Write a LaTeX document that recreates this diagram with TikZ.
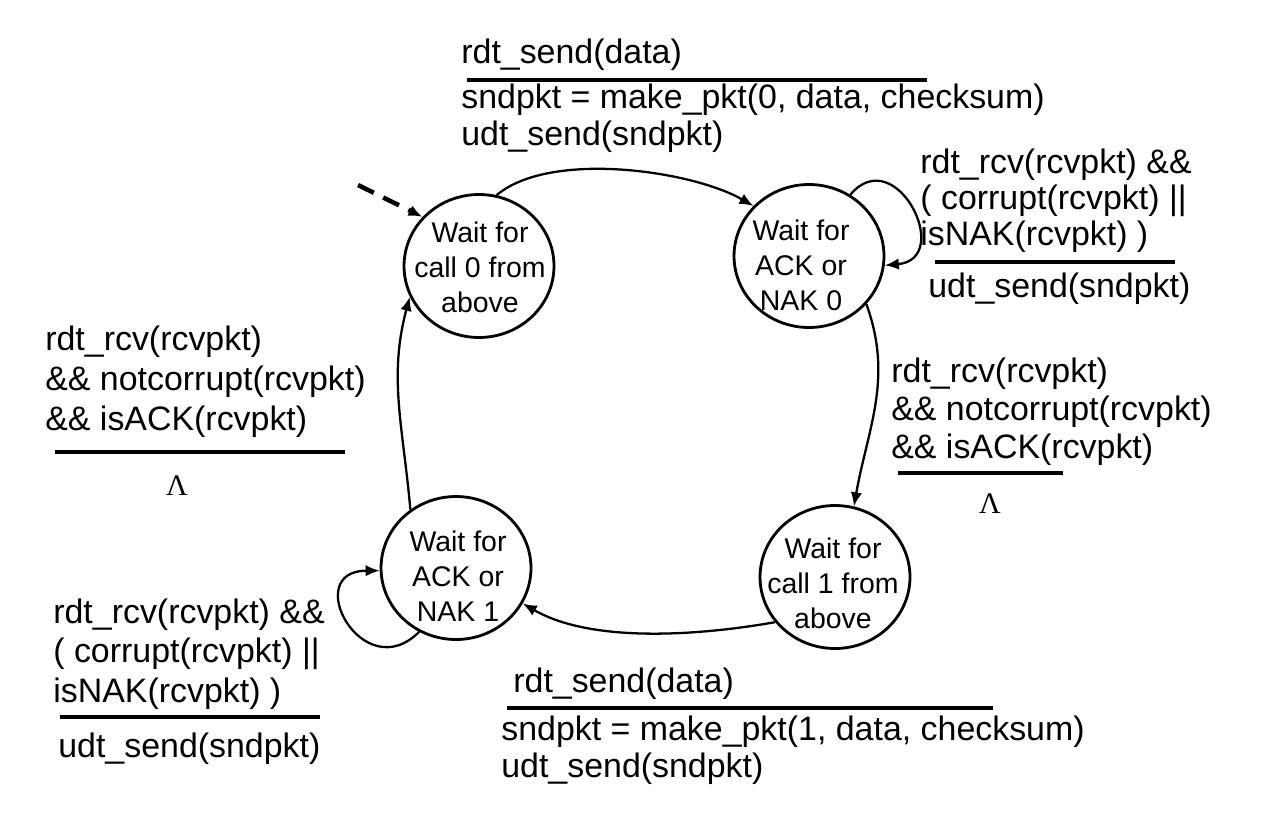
\documentclass[tikz,border=0pt]{standalone}
\usepackage{fontspec}
\setmainfont{Liberation Sans}
\newfontfamily\lamfont{Liberation Serif}
\usetikzlibrary{arrows.meta,shapes.geometric}
\begin{document}
\begin{tikzpicture}[x=0.02cm,y=-0.02cm,
  waitstate/.style={ellipse,draw,line width=1.6pt,minimum width=3cm,minimum height=2.86cm,inner sep=0pt},
  statetxt/.style={anchor=base,align=center,inner sep=0pt,font=\fontsize{16.2pt}{19.8pt}\selectfont},
  labelsty/.style={anchor=base west,align=left,inner sep=0pt,font=\fontsize{19.3pt}{#1}\selectfont},
  labelsty/.default=21.5pt,
  lam/.style={anchor=base,inner sep=0pt,font=\lamfont\fontsize{17pt}{17pt}\selectfont},
  guardbar/.style={line width=2.4pt},
  transition/.style={line width=1.3pt,-{Latex[length=8pt,width=6.5pt]}},
  startarrow/.style={transition,line width=2.6pt,dash pattern=on 10pt off 6pt}]

  \useasboundingbox (0,0) rectangle (1280,825);

  \node[waitstate] (w0) at (479,266) {};
  \node[statetxt] (w0t) at (480,312) {Wait for\\call 0 from\\above};
  \node[waitstate] (a0) at (809,256) {};
  \node[statetxt] (a0t) at (801,310) {Wait for\\ACK or\\NAK 0};
  \node[waitstate] (w1) at (835,577) {};
  \node[statetxt] (w1t) at (833,628) {Wait for\\call 1 from\\above};
  \node[waitstate] (a1) at (456,568) {};
  \node[statetxt] (a1t) at (458,621) {Wait for\\ACK or\\NAK 1};

  \coordinate (start) at (358,185);
  \draw[startarrow] (start) -- (w0.139);
  \draw[transition] (w0.76) to[out=40,in=150,looseness=0.7] (a0.138);
  \draw[transition] (a0.56) to[out=50,in=5,looseness=2.3] (a0.-7);
  \draw[transition] (a0.-40) to[out=-70,in=80] (w1.75);
  \draw[transition] (w1.217) to[out=190,in=-30,looseness=0.8] (a1.-28);
  \draw[transition] (a1.240) to[out=225,in=180,looseness=2.8] (a1.182);
  \draw[transition] (a1.128) to[out=95,in=255] (w0.204);

  \node[labelsty] (send0) at (461,63) {rdt\_send(data)};
  \draw[guardbar] (467,80) -- (927,80);
  \node[labelsty=21pt] (send0act) at (461,145) {sndpkt = make\_pkt(0, data, checksum)\\udt\_send(sndpkt)};

  \node[labelsty=20.4pt] (loop0) at (920,245) {rdt\_rcv(rcvpkt) \&\&\\( corrupt(rcvpkt) ||\\isNAK(rcvpkt) )};
  \draw[guardbar] (935,262) -- (1175,262);
  \node[labelsty] (loop0act) at (928,297) {udt\_send(sndpkt)};

  \node[labelsty=21.5pt] (ack0) at (891,458) {rdt\_rcv(rcvpkt)\\\&\& notcorrupt(rcvpkt)\\\&\& isACK(rcvpkt)};
  \draw[guardbar] (898,473) -- (1063,473);
  \node[lam] (ack0act) at (990,513) {Λ};

  \node[labelsty=22.7pt] (ack1) at (45,430) {rdt\_rcv(rcvpkt)\\\&\& notcorrupt(rcvpkt)\\\&\& isACK(rcvpkt)};
  \draw[guardbar] (55,452) -- (345,452);
  \node[lam] (ack1act) at (177,495) {Λ};

  \node[labelsty] (send1) at (513,692) {rdt\_send(data)};
  \draw[guardbar] (507,708) -- (993,708);
  \node[labelsty=21pt] (send1act) at (501,777) {sndpkt = make\_pkt(1, data, checksum)\\udt\_send(sndpkt)};

  \node[labelsty=22.4pt] (loop1) at (53,702) {rdt\_rcv(rcvpkt) \&\&\\( corrupt(rcvpkt) ||\\isNAK(rcvpkt) )};
  \draw[guardbar] (60,717) -- (320,717);
  \node[labelsty] (loop1act) at (58,757) {udt\_send(sndpkt)};

\end{tikzpicture}
\end{document}
